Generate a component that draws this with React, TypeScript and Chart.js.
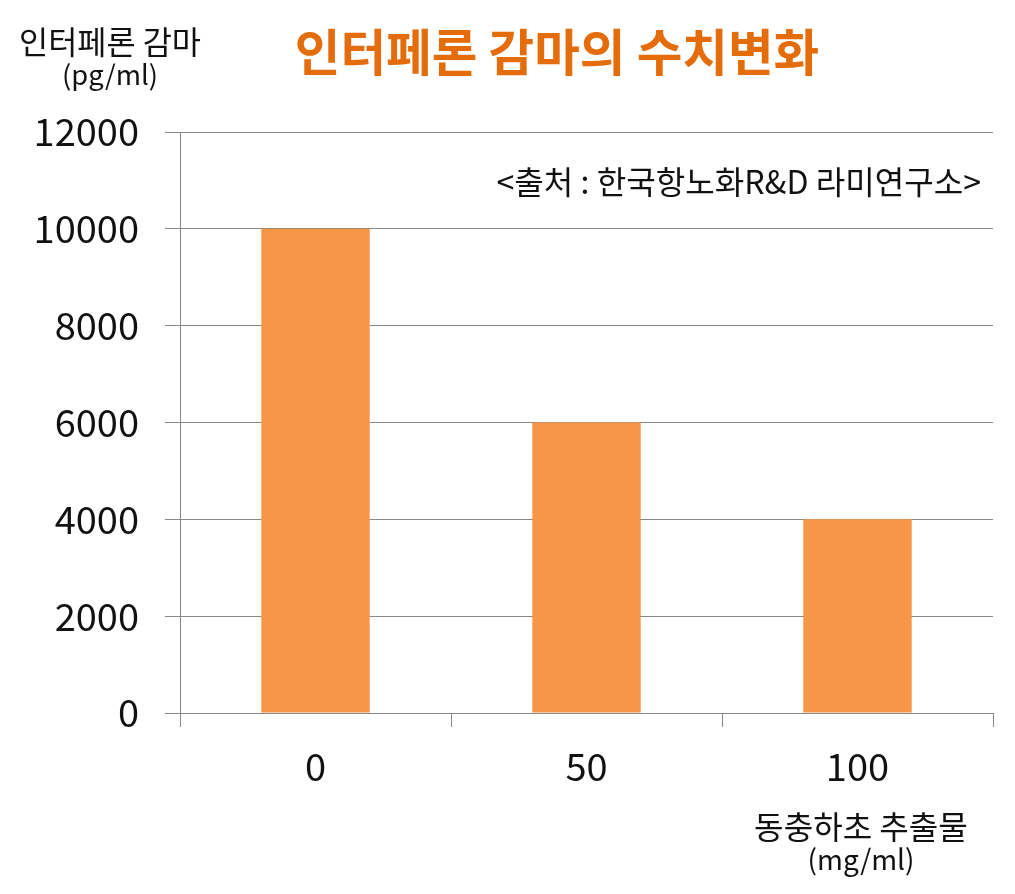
import React, { useEffect, useRef } from "react";
import { Chart, registerables } from "chart.js";

Chart.register(...registerables);

const categories = ["0", "50", "100"];
const values = [10000, 6000, 4000];
const yTicks = [0, 2000, 4000, 6000, 8000, 10000, 12000];
const chartTitle = "인터페론 감마의 수치변화";
const yTitleLines = ["인터페론 감마", "(pg/ml)"];
const xTitleLines = ["동충하초 추출물", "(mg/ml)"];
const sourceNote = "<출처 : 한국항노화R&D 라미연구소>";

const FONT = '"Noto Sans CJK KR", "Noto Sans", sans-serif';

// draw text scaled so that its width equals the reference width
function drawFitted(
  ctx: CanvasRenderingContext2D,
  text: string,
  x: number,
  y: number,
  width: number,
  weight: string,
  align: CanvasTextAlign
) {
  ctx.font = `${weight} 40px ${FONT}`;
  const w = ctx.measureText(text).width;
  const size = (40 * width) / w;
  ctx.font = `${weight} ${size.toFixed(1)}px ${FONT}`;
  ctx.textAlign = align;
  ctx.fillText(text, x, y);
}

const textPlugin = {
  id: "cornerTexts",
  afterDraw(chart: any) {
    const ctx = chart.ctx as CanvasRenderingContext2D;
    ctx.save();
    ctx.textBaseline = "middle";
    ctx.fillStyle = "#E46C0A";
    drawFitted(ctx, chartTitle, 557, 52, 524, "bold", "center");
    ctx.fillStyle = "#111";
    drawFitted(ctx, yTitleLines[0], 110, 42, 182, "normal", "center");
    drawFitted(ctx, yTitleLines[1], 110, 75, 96, "normal", "center");
    drawFitted(ctx, xTitleLines[0], 861, 827, 214, "normal", "center");
    drawFitted(ctx, xTitleLines[1], 861, 859, 107, "normal", "center");
    drawFitted(ctx, sourceNote, 981, 182, 485, "normal", "right");
    ctx.restore();
  },
};

export default function App() {
  const ref = useRef<HTMLCanvasElement | null>(null);
  useEffect(() => {
    document.body.style.margin = "0";
    const canvas = ref.current!;
    const chart = new Chart(canvas, {
      type: "bar",
      data: {
        labels: categories,
        datasets: [
          {
            data: values,
            backgroundColor: "#F79646",
            borderWidth: 0,
            barPercentage: 0.4,
            categoryPercentage: 1,
          },
        ],
      },
      options: {
        responsive: false,
        animation: false,
        layout: { padding: { left: 0, right: 22, top: 132, bottom: 0 } },
        plugins: {
          legend: { display: false },
          title: { display: false },
          tooltip: { enabled: false },
        },
        scales: {
          x: {
            grid: {
              offset: true,
              drawOnChartArea: false,
              color: "#888",
              tickLength: 14,
              tickColor: "#888",
            },
            border: { color: "#888" },
            ticks: {
              color: "#111",
              font: { family: FONT, size: 38 },
              padding: 17,
            },
            afterFit(scale: any) {
              scale.height = 894 - 713;
            },
          },
          y: {
            min: yTicks[0],
            max: yTicks[yTicks.length - 1],
            grid: { color: "#888", tickLength: 15, tickColor: "#888" },
            border: { color: "#888" },
            afterBuildTicks(scale: any) {
              scale.ticks = yTicks.map((v) => ({ value: v }));
            },
            ticks: {
              color: "#111",
              font: { family: FONT, size: 38 },
              padding: 26,
              callback: (v: any) => String(v),
            },
            afterFit(scale: any) {
              scale.width = 180;
            },
          },
        },
      },
      plugins: [textPlugin],
    } as any);
    return () => chart.destroy();
  }, []);
  return (
    <div style={{ width: 1015, height: 894, background: "#fff" }}>
      <canvas ref={ref} width={1015} height={894} style={{ display: "block" }} />
    </div>
  );
}
